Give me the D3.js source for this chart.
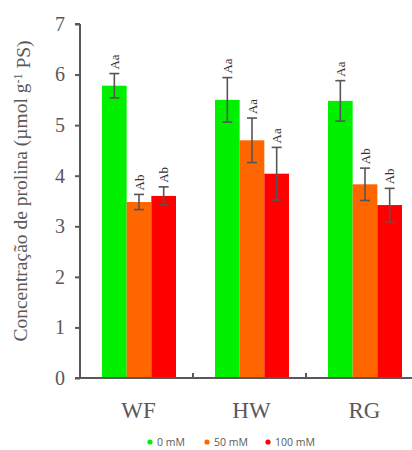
<!DOCTYPE html>
<html>
<head>
<meta charset="utf-8">
<script src="https://cdn.jsdelivr.net/npm/d3@7"></script>
<style>
  body { margin: 0; background: #fff; }
  svg { display: block; }
</style>
</head>
<body>
<svg id="chart" width="412" height="450"></svg>
<script>
// Cultivars on the x axis
const categories = ["WF", "HW", "RG"];
// NaCl treatments
const series = ["0 mM", "50 mM", "100 mM"];
const seriesColors = ["#00f000", "#ff6600", "#ff0000"];
// Proline concentration (µmol g-1 PS), one array per treatment
const values0 = [5.78, 5.50, 5.48];
const values50 = [3.48, 4.70, 3.83];
const values100 = [3.60, 4.04, 3.42];
// Error bar half-lengths
const err0 = [0.24, 0.44, 0.40];
const err50 = [0.15, 0.44, 0.32];
const err100 = [0.18, 0.52, 0.33];
// Significance letters
const letters0 = ["Aa", "Aa", "Aa"];
const letters50 = ["Ab", "Aa", "Ab"];
const letters100 = ["Ab", "Aa", "Ab"];
const yTicks = [0, 1, 2, 3, 4, 5, 6, 7];

const seriesValues = [values0, values50, values100];
const seriesErr = [err0, err50, err100];
const seriesLetters = [letters0, letters50, letters100];

const svg = d3.select("#chart");
const axisColor = "#595959";
const serif = "'Liberation Serif', 'Times New Roman', serif";

const x0 = d3.scaleBand().domain(categories).range([80, 419]).padding(0);
const x1 = d3.scaleBand().domain(series).range([22, 96]).padding(0);
const y = d3.scaleLinear().domain([0, 7]).range([378, 24]);

// Bars, error bars and letters
const rows = [];
categories.forEach((c, i) => {
  series.forEach((s, j) => {
    rows.push({ cat: c, ser: s, j, v: seriesValues[j][i], e: seriesErr[j][i], l: seriesLetters[j][i] });
  });
});

const g = svg.append("g");
g.selectAll("rect.bar").data(rows).join("rect")
  .attr("class", "bar")
  .attr("x", d => x0(d.cat) + x1(d.ser))
  .attr("width", x1.bandwidth())
  .attr("y", d => y(d.v))
  .attr("height", d => y(0) - y(d.v))
  .attr("fill", d => seriesColors[d.j]);

const cx = d => x0(d.cat) + x1(d.ser) + x1.bandwidth() / 2;
const eb = g.selectAll("g.err").data(rows).join("g").attr("class", "err")
  .attr("stroke", "#555").attr("stroke-width", 1.6);
eb.append("line")
  .attr("x1", cx).attr("x2", cx)
  .attr("y1", d => y(d.v + d.e)).attr("y2", d => y(d.v - d.e));
eb.append("line")
  .attr("x1", d => cx(d) - 5).attr("x2", d => cx(d) + 5)
  .attr("y1", d => y(d.v + d.e)).attr("y2", d => y(d.v + d.e));
eb.append("line")
  .attr("x1", d => cx(d) - 5).attr("x2", d => cx(d) + 5)
  .attr("y1", d => y(d.v - d.e)).attr("y2", d => y(d.v - d.e));

g.selectAll("text.letter").data(rows).join("text")
  .attr("class", "letter")
  .attr("transform", d => `translate(${cx(d)},${y(d.v + d.e) - 4}) rotate(-90)`)
  .attr("dy", "0.35em")
  .attr("text-anchor", "start")
  .attr("font-family", serif)
  .attr("font-size", 13)
  .attr("fill", "#333")
  .text(d => d.l);

// Y axis
const yAxis = svg.append("g")
  .attr("transform", "translate(80,0)")
  .call(d3.axisLeft(y).tickValues(yTicks).tickFormat(d3.format("d")).tickSize(5).tickPadding(10));
yAxis.select(".domain").attr("stroke", axisColor).attr("stroke-width", 2).attr("d", `M0,${y(7)}H-5M0,${y(7)}V${y(0)}`);
yAxis.selectAll(".tick line").attr("stroke", axisColor).attr("stroke-width", 2);
yAxis.selectAll(".tick text")
  .attr("font-family", serif).attr("font-size", 20).attr("fill", axisColor);

// X axis
const xAxis = svg.append("g")
  .attr("transform", `translate(0,${y(0)})`);
xAxis.append("line")
  .attr("x1", 75).attr("x2", 412).attr("y1", 0).attr("y2", 0)
  .attr("stroke", axisColor).attr("stroke-width", 2);
xAxis.selectAll("line.sep").data(categories.slice(1)).join("line")
  .attr("class", "sep")
  .attr("x1", d => x0(d)).attr("x2", d => x0(d))
  .attr("y1", 0).attr("y2", -5)
  .attr("stroke", axisColor).attr("stroke-width", 2);
xAxis.selectAll("text").data(categories).join("text")
  .attr("x", d => x0(d) + x0.bandwidth() / 2 + 2)
  .attr("y", 40)
  .attr("text-anchor", "middle")
  .attr("font-family", serif).attr("font-size", 23).attr("fill", axisColor)
  .text(d => d);

// Y axis title
const title = svg.append("text")
  .attr("transform", "translate(27,191) rotate(-90)")
  .attr("text-anchor", "middle")
  .attr("font-family", serif).attr("font-size", 19.5).attr("fill", axisColor);
title.append("tspan").text("Concentração de prolina (µmol g");
title.append("tspan").attr("dy", "-0.45em").attr("font-size", 12).text("-1");
title.append("tspan").attr("dy", "0.45em").text(" PS)");

// Legend
const legendX = [150, 207, 268];
const legend = svg.append("g").selectAll("g").data(series).join("g")
  .attr("transform", (d, i) => `translate(${legendX[i]},442)`);
legend.append("circle").attr("r", 2.6).attr("fill", (d, i) => seriesColors[i]);
legend.append("text")
  .attr("x", 7).attr("dy", "0.35em")
  .attr("font-family", "'Open Sans', 'Noto Sans', sans-serif").attr("font-size", 10.5)
  .attr("fill", axisColor)
  .text(d => d);
</script>
</body>
</html>
